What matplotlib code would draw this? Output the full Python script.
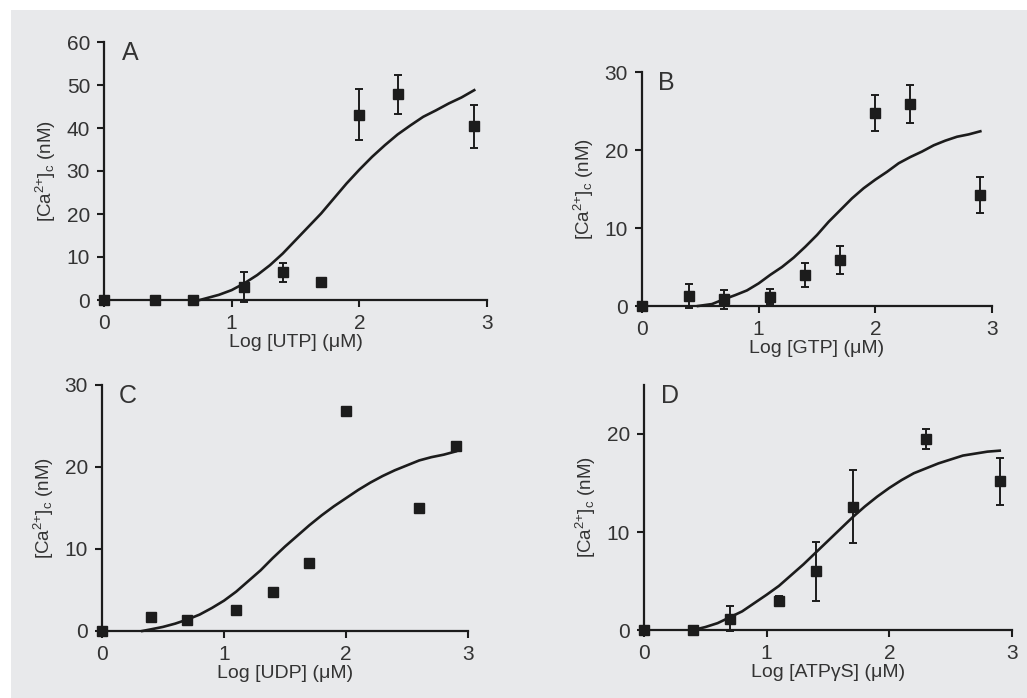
import matplotlib

matplotlib.use("Agg")
import matplotlib.pyplot as plt
from matplotlib.patches import Rectangle

plt.rcParams["font.family"] = ["Liberation Sans", "DejaVu Sans"]
plt.rcParams["mathtext.default"] = "regular"

# ---- data ------------------------------------------------------------------
# A: UTP
a_x = [0, 0.4, 0.7, 1.1, 1.4, 1.7, 2.0, 2.3, 2.9]
a_y = [0, 0, 0, 3.1, 6.4, 4.3, 43.1, 47.8, 40.4]
a_err = [0, 0, 0, 3.5, 2.3, 0.8, 6.0, 4.5, 5.0]
a_fit_x = [0.75, 0.8, 0.9, 1.0, 1.1, 1.2, 1.3, 1.4, 1.5, 1.6, 1.7, 1.8, 1.9,
           2.0, 2.1, 2.2, 2.3, 2.4, 2.5, 2.6, 2.7, 2.8, 2.9]
a_fit_y = [0, 0.4, 1.2, 2.3, 3.9, 5.8, 8.1, 10.8, 13.9, 17.0, 20.1, 23.6, 27.1,
           30.3, 33.3, 36.0, 38.5, 40.6, 42.6, 44.1, 45.7, 47.1, 48.8]

# B: GTP
b_x = [0, 0.4, 0.7, 1.1, 1.4, 1.7, 2.0, 2.3, 2.9]
b_y = [0, 1.3, 0.85, 1.2, 4.0, 5.9, 24.7, 25.9, 14.2]
b_err = [0, 1.5, 1.2, 1.0, 1.5, 1.8, 2.3, 2.4, 2.3]
b_fit_x = [0.48, 0.6, 0.7, 0.8, 0.9, 1.0, 1.1, 1.2, 1.3, 1.4, 1.5, 1.6, 1.7,
           1.8, 1.9, 2.0, 2.1, 2.2, 2.3, 2.4, 2.5, 2.6, 2.7, 2.8, 2.9]
b_fit_y = [0, 0.25, 0.85, 1.4, 2.0, 2.9, 4.0, 5.0, 6.2, 7.6, 9.1, 10.8, 12.3,
           13.8, 15.1, 16.2, 17.2, 18.3, 19.1, 19.8, 20.6, 21.2, 21.7, 22.0, 22.4]

# C: UDP (no error bars)
c_x = [0, 0.4, 0.7, 1.1, 1.4, 1.7, 2.0, 2.6, 2.9]
c_y = [0, 1.67, 1.4, 2.56, 4.7, 8.25, 26.8, 15.0, 22.6]
c_fit_x = [0.33, 0.4, 0.5, 0.6, 0.7, 0.8, 0.9, 1.0, 1.1, 1.2, 1.3, 1.4, 1.5,
           1.6, 1.7, 1.8, 1.9, 2.0, 2.1, 2.2, 2.3, 2.4, 2.5, 2.6, 2.7, 2.8, 2.9]
c_fit_y = [0, 0.2, 0.5, 0.9, 1.4, 2.0, 2.8, 3.7, 4.8, 6.1, 7.4, 8.9, 10.3,
           11.6, 12.9, 14.1, 15.2, 16.2, 17.2, 18.1, 18.9, 19.6, 20.2, 20.8,
           21.2, 21.5, 21.9]

# D: ATPγS
d_x = [0, 0.4, 0.7, 1.1, 1.4, 1.7, 2.3, 2.9]
d_y = [0, 0, 1.16, 3.0, 6.0, 12.6, 19.5, 15.2]
d_err = [0, 0, 1.3, 0.5, 3.0, 3.7, 1.05, 2.4]
d_fit_x = [0.4, 0.5, 0.6, 0.7, 0.8, 0.9, 1.0, 1.1, 1.2, 1.3, 1.4, 1.5, 1.6,
           1.7, 1.8, 1.9, 2.0, 2.1, 2.2, 2.3, 2.4, 2.5, 2.6, 2.7, 2.8, 2.9]
d_fit_y = [0, 0.3, 0.7, 1.3, 1.9, 2.75, 3.6, 4.5, 5.6, 6.7, 7.9, 9.1, 10.3,
           11.5, 12.6, 13.6, 14.5, 15.3, 16.0, 16.5, 17.0, 17.4, 17.8, 18.0,
           18.2, 18.3]

INK = "#1c1c1c"
TXT = "#333333"
BG = "#e8e9eb"

fig = plt.figure(figsize=(10.27, 6.98), dpi=100, facecolor="white")
fig.patches.append(Rectangle((11 / 1027, 0), 1 - 11 / 1027, 688 / 698,
                             transform=fig.transFigure, facecolor=BG,
                             edgecolor="none", zorder=-10))


def px_axes(left, top, right, bottom):
    return fig.add_axes([left / 1027, 1 - bottom / 698,
                         (right - left) / 1027, (bottom - top) / 698])


def panel(ax, x, y, err, fx, fy, ymax, yticks, letter, xlabel):
    ax.set_facecolor("none")
    ax.plot(fx, fy, "-", color=INK, linewidth=1.9, clip_on=False, zorder=3)
    if err is not None:
        ax.errorbar(x, y, yerr=err, fmt="none", ecolor=INK, elinewidth=1.4,
                    capsize=3, capthick=1.4, clip_on=False, zorder=4)
    ax.plot(x, y, "s", color=INK, markersize=7.5, linestyle="none",
            clip_on=False, zorder=5)
    ax.set_xlim(0, 3)
    ax.set_ylim(0, ymax)
    ax.set_xticks([0, 1, 2, 3])
    ax.set_yticks(yticks)
    for s in ("top", "right"):
        ax.spines[s].set_visible(False)
    for s in ("left", "bottom"):
        ax.spines[s].set_linewidth(1.6)
        ax.spines[s].set_color(INK)
    ax.tick_params(direction="out", length=5, width=1.5, color=INK,
                   labelsize=15, labelcolor=TXT, pad=5)
    ax.set_xlabel(xlabel, fontsize=14, color=TXT, labelpad=1)
    ax.set_ylabel("[Ca$^{2{+}}$]$_{c}$ (nM)", fontsize=13.5, color=TXT, labelpad=6)
    ax.text(0.14, ymax * 1.005, letter, fontsize=18, color=TXT, ha="left", va="top")


axA = px_axes(104, 42, 487, 300)
panel(axA, a_x, a_y, a_err, a_fit_x, a_fit_y, 60, [0, 10, 20, 30, 40, 50, 60],
      "A", "Log [UTP] (μM)")

axB = px_axes(642, 72, 992, 306)
panel(axB, b_x, b_y, b_err, b_fit_x, b_fit_y, 30, [0, 10, 20, 30],
      "B", "Log [GTP] (μM)")

axC = px_axes(102, 385, 468, 631)
panel(axC, c_x, c_y, None, c_fit_x, c_fit_y, 30, [0, 10, 20, 30],
      "C", "Log [UDP] (μM)")

axD = px_axes(644, 385, 1012, 630)
panel(axD, d_x, d_y, d_err, d_fit_x, d_fit_y, 25, [0, 10, 20],
      "D", "Log [ATPγS] (μM)")

fig.savefig("out.png", dpi=100, facecolor=fig.get_facecolor())
